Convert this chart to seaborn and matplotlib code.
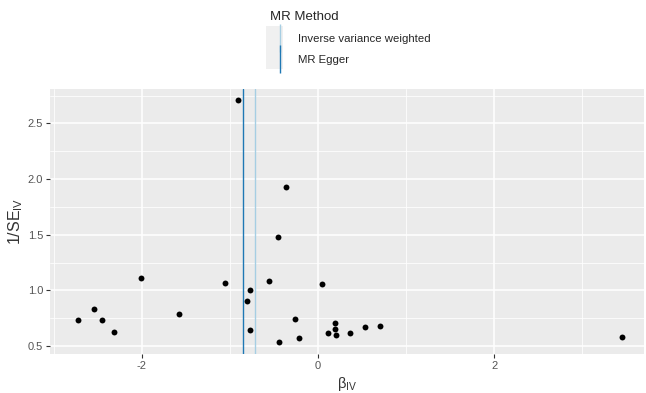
import numpy as np
import pandas as pd
import matplotlib
matplotlib.use('Agg')
import matplotlib.pyplot as plt
import seaborn as sns
from matplotlib.lines import Line2D
from matplotlib.patches import Rectangle

# SNP-level estimates
beta_iv = [-2.72, -2.54, -2.45, -2.31, -2.01, -1.58, -1.05, -0.91, -0.36, -0.45,
           -0.56, 0.05, -0.77, -0.81, -0.26, 0.19, -0.77, 0.19, 0.12, 0.21,
           0.36, 0.53, 0.70, -0.44, -0.22, 3.45]
inv_se = [0.73, 0.83, 0.73, 0.63, 1.11, 0.79, 1.07, 2.71, 1.93, 1.48,
          1.08, 1.06, 1.00, 0.90, 0.74, 0.71, 0.64, 0.65, 0.62, 0.60,
          0.62, 0.67, 0.68, 0.54, 0.57, 0.58]

# MR estimates (vertical lines)
methods = ['Inverse variance weighted', 'MR Egger']
method_b = [-0.71, -0.85]
method_colors = ['#a6cee3', '#1f78b4']

df = pd.DataFrame({'b': beta_iv, 'ise': inv_se})

sns.set_theme(style='darkgrid', rc={
    'axes.facecolor': '#EBEBEB',
    'grid.color': 'white',
})
plt.rcParams['font.family'] = ['Liberation Sans', 'DejaVu Sans']
plt.rcParams['mathtext.fontset'] = 'custom'
plt.rcParams['mathtext.rm'] = 'Liberation Sans'
plt.rcParams['mathtext.it'] = 'Liberation Sans:italic'

fig = plt.figure(figsize=(6.46, 3.93), dpi=100)
ax = fig.add_axes([50 / 646, 39 / 393, 594 / 646, 265 / 393])

sns.scatterplot(data=df, x='b', y='ise', color='black', s=18, linewidth=0, ax=ax, zorder=3)

for m, b, c in zip(methods, method_b, method_colors):
    ax.axvline(b, color=c, lw=1.0, zorder=2)

ax.set_xlim(-3.04, 3.70)
ax.set_ylim(0.428, 2.81)
ax.set_xticks([-2, 0, 2])
ax.set_xticklabels(['-2', '0', '2'])
ax.set_yticks([0.5, 1.0, 1.5, 2.0, 2.5])
ax.set_xticks([-3, -1, 1, 3], minor=True)
ax.set_yticks([0.75, 1.25, 1.75, 2.25, 2.75], minor=True)
ax.grid(which='major', color='white', lw=1.1)
ax.grid(which='minor', color='white', lw=0.55)
for s in ax.spines.values():
    s.set_visible(False)
ax.tick_params(axis='both', which='major', labelsize=8, labelcolor='#555555',
               color='#333333', length=3, width=0.8, direction='out', pad=2,
               bottom=True, left=True)
ax.tick_params(axis='both', which='minor', length=0)

ax.set_xlabel(r'$\mathrm{β}_{\mathrm{IV}}$', fontsize=10.5, color='#333333', labelpad=3)
ax.set_ylabel(r'$1/\mathrm{SE}_{\mathrm{IV}}$', fontsize=11.5, color='#333333', labelpad=2)

# legend on top, ggplot-like
fig.patches.append(Rectangle((266 / 646, 1 - 69 / 393), 17 / 646, 43 / 393,
                             transform=fig.transFigure, facecolor='#F0F0F0',
                             edgecolor='none', zorder=0))
handles = [Line2D([], [], color=c, marker='|', linestyle='None', markersize=20,
                  markeredgewidth=1.0) for c in method_colors]
leg = fig.legend(handles, methods, title='MR Method', loc='upper left',
                 bbox_to_anchor=(262 / 646, 1 - 3 / 393), frameon=False,
                 fontsize=8.2, title_fontsize=9.5, alignment='left',
                 handlelength=1.8, handletextpad=0.66, labelspacing=0.95,
                 borderpad=0.2)

fig.savefig('out.png', dpi=100)
